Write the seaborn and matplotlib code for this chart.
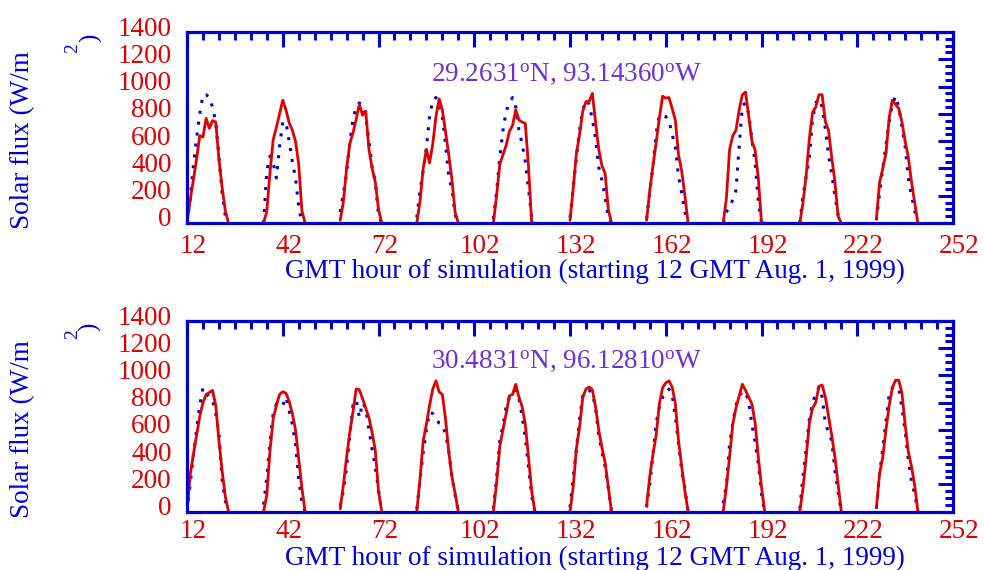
import numpy as np
import pandas as pd
import matplotlib
matplotlib.use("Agg")
import matplotlib.pyplot as plt
import seaborn as sns
from matplotlib.ticker import FixedLocator, MultipleLocator
from matplotlib.transforms import ScaledTranslation

# ---------------- data (hourly values, local hours 12..25 of each day) ----------------
day_start_hours = [12, 36, 60, 84, 108, 132, 156, 180, 204, 228]
x_ticks = [12, 42, 72, 102, 132, 162, 192, 222, 252]
x_tick_labels = [str(v) for v in x_ticks]
y_ticks = [0, 200, 400, 600, 800, 1000, 1200, 1400]

top_red_days = [
    [0, 170, 315, 470, 640, 630, 767, 694, 750, 740, 470, 260, 90, 0],
    [0, 85, 370, 610, 700, 800, 900, 830, 735, 680, 600, 430, 90, 0],
    [20, 156, 400, 580, 660, 760, 870, 790, 820, 540, 400, 300, 100, 0],
    [0, 156, 400, 540, 440, 580, 780, 910, 830, 670, 500, 320, 80, 0],
    [0, 200, 430, 500, 570, 670, 715, 830, 755, 740, 730, 413, 0, 0],
    [20, 250, 510, 650, 820, 890, 890, 950, 740, 540, 420, 364, 100, 0],
    [20, 240, 420, 590, 770, 930, 915, 920, 840, 755, 500, 380, 200, 0],
    [0, 180, 540, 640, 680, 830, 940, 960, 780, 600, 535, 330, 0, 0],
    [0, 150, 350, 620, 810, 850, 940, 940, 743, 680, 480, 300, 50, 0],
    [30, 300, 400, 510, 770, 900, 870, 840, 740, 600, 480, 300, 150, 0],
]
top_blue_days = [
    [0, 170, 420, 620, 800, 940, 940, 920, 850, 740, 490, 220, 50, 0],
    [0, 380, 490, 440, 330, 560, 740, 740, 600, 450, 330, 120, 0, 0],
    [80, 217, 360, 590, 760, 850, 880, 860, 790, 600, 410, 300, 60, 0],
    [40, 240, 380, 550, 780, 900, 920, 850, 780, 580, 340, 250, 60, 0],
    [30, 230, 480, 680, 820, 880, 920, 850, 680, 580, 450, 250, 40, 0],
    [40, 250, 480, 680, 830, 900, 870, 760, 620, 410, 315, 190, 40, 0],
    [30, 230, 413, 660, 790, 790, 780, 750, 650, 560, 340, 220, 80, 0],
    [0, 80, 120, 170, 240, 560, 860, 880, 800, 608, 450, 160, 0, 0],
    [0, 200, 340, 480, 760, 880, 910, 850, 690, 500, 360, 200, 60, 0],
    [20, 220, 400, 570, 740, 870, 930, 850, 706, 560, 330, 200, 90, 0],
]
bot_red_days = [
    [0, 270, 420, 560, 700, 800, 860, 875, 890, 780, 520, 300, 110, 0],
    [0, 120, 450, 680, 780, 860, 880, 870, 810, 720, 600, 390, 170, 0],
    [20, 195, 400, 580, 730, 900, 895, 830, 760, 690, 580, 450, 150, 0],
    [0, 240, 520, 640, 780, 900, 960, 880, 860, 680, 440, 255, 133, 0],
    [0, 210, 480, 600, 720, 850, 860, 935, 840, 770, 640, 400, 150, 0],
    [0, 180, 463, 620, 840, 900, 915, 895, 770, 600, 470, 360, 180, 0],
    [40, 260, 420, 560, 790, 910, 945, 960, 915, 793, 520, 330, 150, 0],
    [0, 182, 402, 640, 760, 850, 935, 890, 840, 790, 650, 400, 180, 0],
    [0, 170, 400, 650, 760, 800, 920, 930, 842, 700, 560, 400, 200, 0],
    [30, 280, 400, 600, 780, 910, 965, 965, 870, 640, 440, 330, 190, 0],
]
bot_blue_days = [
    [0, 200, 420, 600, 780, 910, 870, 840, 820, 720, 580, 230, 80, 0],
    [50, 250, 510, 720, 790, 770, 780, 840, 740, 640, 500, 240, 70, 0],
    [40, 150, 320, 560, 780, 820, 690, 800, 760, 600, 460, 330, 160, 0],
    [20, 230, 430, 600, 730, 720, 680, 650, 640, 570, 450, 255, 120, 0],
    [20, 250, 520, 630, 770, 840, 880, 890, 830, 700, 540, 330, 110, 0],
    [30, 250, 460, 680, 850, 890, 890, 870, 760, 560, 440, 330, 170, 0],
    [30, 200, 420, 650, 770, 840, 855, 900, 860, 700, 500, 300, 170, 0],
    [60, 194, 500, 650, 780, 850, 880, 880, 805, 640, 510, 350, 130, 0],
    [20, 260, 460, 680, 800, 865, 915, 840, 650, 580, 520, 300, 140, 0],
    [20, 280, 460, 660, 860, 910, 915, 910, 760, 590, 380, 220, 130, 0],
]

top_title = r"29.2631$^{\mathrm{o}}$N, 93.14360$^{\mathrm{o}}$W"
bot_title = r"30.4831$^{\mathrm{o}}$N, 96.12810$^{\mathrm{o}}$W"
x_label = "GMT hour of simulation (starting 12 GMT Aug. 1, 1999)"
y_label = "Solar flux (W/m"


def long_frame(days):
    rows = []
    for d, (h0, vals) in enumerate(zip(day_start_hours, days)):
        for k, v in enumerate(vals):
            rows.append({"day": d, "hour": h0 + k, "flux": v})
    return pd.DataFrame(rows)


# ---------------- style ----------------
sns.set_style("white")
plt.rcParams["font.family"] = ["Liberation Serif", "DejaVu Serif"]
plt.rcParams["mathtext.fontset"] = "custom"
plt.rcParams["mathtext.rm"] = "Liberation Serif"
plt.rcParams["mathtext.it"] = "Liberation Serif:italic"

RED = "#e00000"
BLUE = "#0000d8"
AXC = "#0000d0"
PURPLE = "#7030d0"
FS = 19.5

fig = plt.figure(figsize=(9.84, 5.70), dpi=100)
W, H = 984.0, 570.0
ax_top = fig.add_axes([187 / W, 1 - 223 / H, 766 / W, 191 / H])
ax_bot = fig.add_axes([187 / W, 1 - 511.5 / H, 766 / W, 190.5 / H])

panels = [
    (ax_top, top_red_days, top_blue_days, top_title, 0.745, 8.0, -0.19),
    (ax_bot, bot_red_days, bot_blue_days, bot_title, 0.753, 5.5, -0.18),
]

for ax, red_days, blue_days, title, ty, xpad, xly in panels:
    sns.lineplot(data=long_frame(blue_days), x="hour", y="flux", units="day",
                 ax=ax, color=BLUE, linewidth=2.2, linestyle=(0, (1, 2.6)),
                 estimator=None, sort=False, legend=False, zorder=2)
    sns.lineplot(data=long_frame(red_days), x="hour", y="flux", units="day",
                 ax=ax, color=RED, linewidth=2.0,
                 estimator=None, sort=False, legend=False, zorder=2.2)

    ax.set_xlim(12, 252)
    ax.set_ylim(0, 1400)
    ax.xaxis.set_major_locator(FixedLocator(x_ticks))
    ax.set_xticklabels(x_tick_labels)
    ax.xaxis.set_minor_locator(FixedLocator(list(range(12, 253, 5))))
    ax.yaxis.set_major_locator(FixedLocator(y_ticks))
    ax.yaxis.set_minor_locator(MultipleLocator(50))
    ax.set_yticklabels([str(v) for v in y_ticks])

    ax.tick_params(which="both", direction="in", top=True, right=True,
                   color=AXC, width=2.2, labelcolor=RED, labelsize=FS)
    ax.tick_params(which="major", length=11)
    ax.tick_params(which="minor", length=5.5)
    ax.tick_params(axis="x", which="both", pad=xpad)
    ax.tick_params(axis="y", which="both", pad=11)
    for s in ax.spines.values():
        s.set_color(AXC)
        s.set_linewidth(2.3)
        s.set_zorder(3)
        s.set_capstyle("projecting")

    ax.set_xlabel(x_label, color=BLUE, fontsize=FS)
    ax.xaxis.set_label_coords(0.5326, xly)
    ax.set_ylabel(y_label, color=BLUE, fontsize=FS, va="center", ha="center")
    ax.yaxis.set_label_coords(-0.2141, 0.432)

    ax.text(0.3185, ty, title, transform=ax.transAxes, color=PURPLE,
            fontsize=FS, ha="left", va="baseline")

    # IDL-like label offsets
    for t in ax.xaxis.get_major_ticks():
        t.label1.set_transform(t.label1.get_transform()
                               + ScaledTranslation(0.06, 0, fig.dpi_scale_trans))
    for t in ax.yaxis.get_major_ticks():
        t.label1.set_transform(t.label1.get_transform()
                               + ScaledTranslation(0, 0.06, fig.dpi_scale_trans))

# detached superscript "2)" of the y label, as in the original
for (x2, y2, xp, yp) in [(73, 48, 91, 38), (73, 334, 90, 327)]:
    fig.text(x2 / W, 1 - y2 / H, "2", color=BLUE, fontsize=14, rotation=90,
             ha="center", va="center")
    fig.text(xp / W, 1 - yp / H, ")", color=BLUE, fontsize=18, rotation=90,
             ha="center", va="center")

fig.savefig("out.png", dpi=100)
